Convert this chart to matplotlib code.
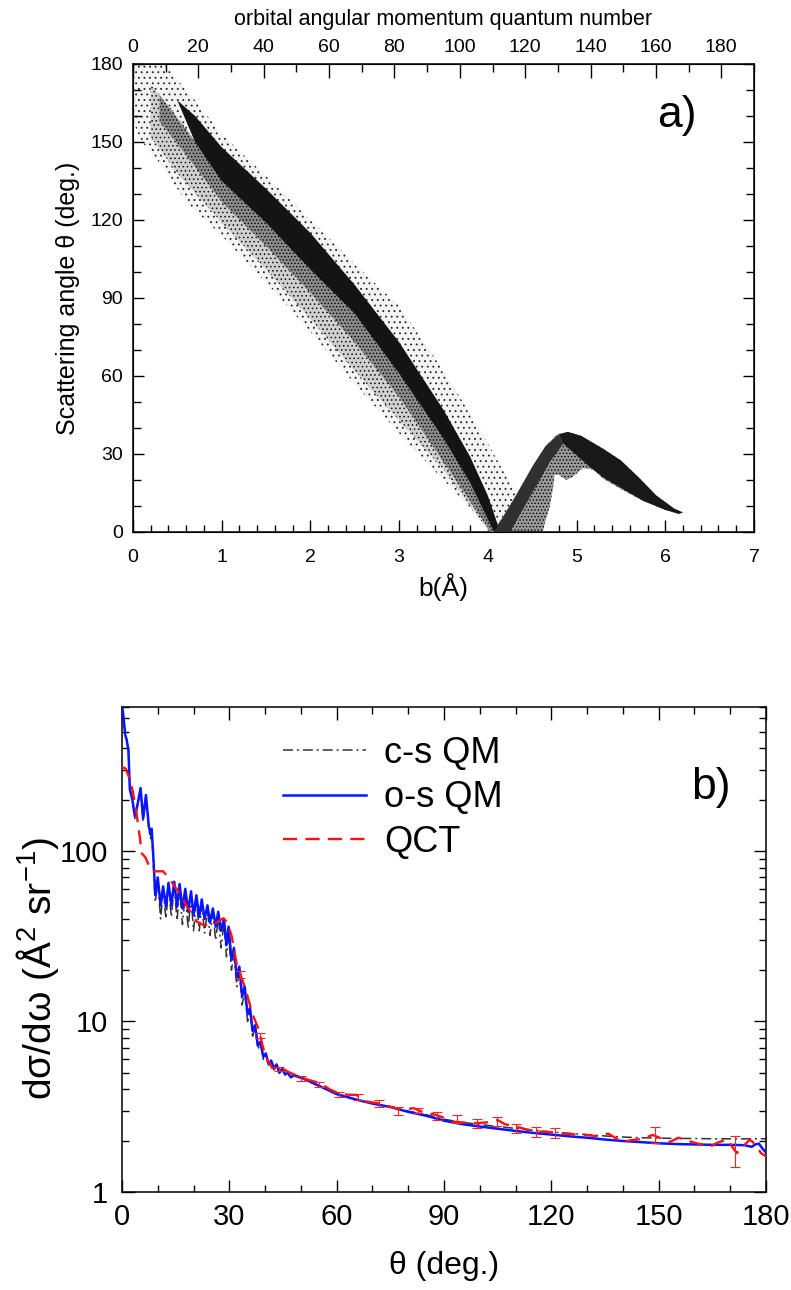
import matplotlib
matplotlib.use('Agg')
import matplotlib.pyplot as plt
from matplotlib.ticker import MultipleLocator, FixedLocator, NullFormatter, FixedFormatter

plt.rcParams['font.family'] = ['Liberation Sans', 'DejaVu Sans']
plt.rcParams['mathtext.fontset'] = 'custom'
plt.rcParams['mathtext.rm'] = 'Liberation Sans'
plt.rcParams['mathtext.it'] = 'Liberation Sans:italic'
plt.rcParams['hatch.linewidth'] = 0.6

# ---------------- panel a) : scattering-angle cloud, read as band outlines (b in A, theta in deg)
# sparse outer envelope of the main branch
env_b = [0.0, 0.35, 0.7, 1.0, 1.5, 2.0, 2.3, 2.5, 3.0, 3.5, 3.9, 4.2, 4.35, 4.45, 4.5,
         4.05, 4.0, 3.5, 3.0, 2.5, 2.0, 1.5, 1.0, 0.6, 0.3, 0.1, 0.0]
env_t = [180, 180, 166, 153, 137, 120, 110, 103, 87, 62, 40, 22, 14, 5, 0,
         0, 2, 20, 38, 57, 77, 96, 114, 127, 142, 150, 158]
# intermediate density below the core
lmid_b = [0.2, 0.45, 1.0, 1.5, 2.0, 2.5, 3.0, 3.5, 3.9, 4.1,
          4.02, 3.5, 3.0, 2.5, 2.0, 1.5, 1.0, 0.5, 0.2]
lmid_t = [172, 162, 137, 121, 103, 85, 63, 38, 12, 0,
          0, 24, 43, 62, 82, 101, 119, 138, 152]
# moderately dense region just under the core
mid_b = [0.3, 0.7, 1.0, 1.5, 2.0, 2.5, 3.0, 3.5, 3.8, 4.05, 4.1,
         4.03, 3.6, 3.0, 2.5, 2.0, 1.5, 1.0, 0.6, 0.3]
mid_t = [168, 150, 137, 121, 103, 85, 63, 38, 20, 3, 0,
         0, 22, 52, 73, 92, 110, 127, 145, 158]
# dense core of the main branch
core_b = [0.5, 0.7, 1.0, 1.5, 2.0, 2.5, 3.0, 3.5, 3.8, 4.0, 4.12, 4.12,
          4.07, 3.8, 3.5, 3.0, 2.5, 2.0, 1.5, 1.0, 0.7]
core_t = [166, 160, 148, 132, 115, 95, 73, 47, 29, 14, 2, 0,
          0, 19, 36, 61, 84, 101, 119, 135, 150]
# second (rainbow) branch outline
br2_b = [4.06, 4.3, 4.5, 4.65, 4.78, 4.9, 5.05, 5.3, 5.5, 5.7, 5.9, 6.1, 6.2,
         6.15, 6.0, 5.75, 5.5, 5.3, 5.19, 5.07, 4.95, 4.88, 4.8, 4.75, 4.74, 4.7, 4.64, 4.62]
br2_t = [0, 13, 25, 33, 37.5, 38.5, 37, 32, 27.5, 21, 14, 9, 7.5,
         7, 8.5, 12, 16.5, 20.5, 24, 24.5, 21, 20, 22, 22, 18, 10, 3, 0]
# dense tail of the second branch
tail_b = [4.8, 4.9, 5.05, 5.3, 5.5, 5.7, 5.9, 6.1, 6.2,
          6.15, 6.0, 5.75, 5.5, 5.3, 5.15, 5.05, 4.95, 4.85]
tail_t = [37.5, 38.5, 37, 32, 27.5, 21, 14, 9, 7.5,
          7, 8.5, 12, 17, 21, 25, 28, 31, 34]
# dense rising arm of the second branch
arm_b = [4.07, 4.3, 4.5, 4.65, 4.8, 4.85, 4.7, 4.55, 4.4, 4.25]
arm_t = [0, 13, 25, 33, 37.5, 34, 27, 18, 9, 0]

# ---------------- panel b) : differential cross sections
qm_theta = [0.0, 0.4, 0.9, 1.3, 1.8, 2.2, 2.9, 3.6, 4.4, 5.2, 5.9, 6.7, 7.5, 8.0, 8.3, 8.8, 9.3,
            10.0, 10.8, 11.5, 12.3, 13.0, 13.8, 14.6, 15.4, 16.1, 16.9, 17.7, 18.5, 19.3, 20.0,
            20.8, 21.6, 22.3, 23.1, 23.9, 24.6, 25.4, 26.2, 26.9, 27.7, 28.5, 29.2, 29.8, 30.6,
            31.3, 32.1, 32.8, 33.6, 34.3, 35.1, 35.8, 36.5, 37.2, 38.0, 38.7, 39.5, 40.2, 41.0,
            41.7, 42.5, 43.2, 44.0, 44.8, 45.6, 46.4, 47.2, 48.0, 50, 55, 60, 65, 70, 75, 80,
            85, 90, 95, 100, 105, 110, 115, 120, 125, 130, 135, 140, 145, 150, 155, 160, 165,
            170, 174, 176, 177, 178, 179, 180]
os_qm = [720, 620, 480, 450, 390, 230, 200, 160, 190, 234, 155, 213, 140, 125, 135, 90, 55,
         70, 48, 62, 47, 65, 48, 66, 47, 64, 46, 60, 44, 58, 42,
         55, 41, 52, 40, 48, 38, 46, 36, 44, 34, 40, 28, 36, 23,
         27, 18, 21, 14, 16, 11, 12, 8.8, 9.5, 7.2, 7.6, 6.2, 6.5, 5.6,
         5.9, 5.3, 5.6, 5.0, 5.3, 4.9, 5.0, 4.7, 4.85, 4.7, 4.2, 3.75, 3.5, 3.3, 3.15, 2.95,
         2.8, 2.62, 2.5, 2.42, 2.35, 2.28, 2.22, 2.17, 2.12, 2.08, 2.03, 1.99, 1.96, 1.93, 1.91,
         1.90, 1.89, 1.89, 1.88, 1.84, 1.90, 1.92, 1.80, 1.70]
cs_qm = [720, 620, 480, 450, 390, 230, 200, 155, 185, 228, 150, 205, 135, 118, 128, 82, 50,
         66, 40, 58, 40, 61, 41, 62, 39, 60, 37, 56, 35, 54, 34,
         51, 34, 48, 33, 45, 32, 43, 30, 41, 27, 38, 24, 32, 20,
         25, 16, 19.5, 12.5, 15, 10, 11.5, 8.2, 9.2, 6.9, 7.4, 6.0, 6.4, 5.5,
         5.8, 5.2, 5.5, 4.95, 5.2, 4.85, 4.95, 4.65, 4.8, 4.65, 4.2, 3.78, 3.52, 3.32, 3.17, 2.98,
         2.84, 2.67, 2.56, 2.49, 2.42, 2.36, 2.30, 2.25, 2.21, 2.17, 2.13, 2.10, 2.08, 2.07, 2.06,
         2.06, 2.05, 2.05, 2.05, 2.05, 2.05, 2.05, 2.05, 2.05]

qct_theta = [0, 1, 2, 3, 4, 5, 5.5, 6.5, 7.8, 9, 11.5, 13, 16.2, 18, 20.9, 22.5, 24.6, 26, 28.3,
             29.5, 30.7, 32, 34.6, 36.5, 38.3, 39.3, 40.2, 42, 44.5, 47, 49.5, 52, 55.6, 58,
             60.6, 63, 65.5, 68, 71.7, 74, 76.6, 79, 81.5, 84, 87.8, 90, 92.7, 96, 98.9, 102,
             105, 107, 110, 113, 116.2, 119, 122.4, 126, 129.7, 133, 135.9, 139.7, 143, 145.5,
             148.3, 151, 153.2, 155.6, 158, 161, 164.3, 166.5, 169.2, 170.5, 171.8, 173, 175.5,
             177, 178.6, 180]
qct = [310, 305, 270, 225, 170, 120, 97, 92, 80, 76, 76, 70, 56, 48, 38.5, 37, 36.8, 37.5, 40.3,
       38, 31.4, 22, 15.3, 11, 8.9, 7.2, 6.2, 5.33, 5.33, 5.0, 4.75, 4.55, 4.34, 4.0,
       3.79, 3.72, 3.71, 3.4, 3.31, 3.2, 3.1, 3.05, 3.1, 2.95, 2.83, 2.72, 2.58, 2.55, 2.53, 2.56,
       2.64, 2.5, 2.42, 2.33, 2.26, 2.25, 2.2, 2.18, 2.16, 2.12, 2.2, 1.97, 2.02, 2.05,
       2.16, 2.05, 1.97, 2.08, 2.0, 1.92, 1.84, 1.95, 2.03, 1.85, 1.69, 1.8, 2.03,
       1.9, 1.69, 1.62]

eb_theta = [33.1, 38.6, 43.9, 50.1, 55.0, 60.6, 66.1, 71.7, 77.2, 82.6, 88.1, 93.7, 99.1,
            104.8, 110.0, 115.6, 121.1, 148.9, 171.2]
eb_val = [19.0, 8.3, 5.27, 4.64, 4.29, 3.75, 3.60, 3.30, 2.99, 2.99, 2.78, 2.69, 2.52,
          2.60, 2.37, 2.26, 2.21, 2.17, 1.76]
eb_err = [0.9, 0.27, 0.12, 0.15, 0.15, 0.13, 0.14, 0.14, 0.17, 0.10, 0.15, 0.14, 0.15,
          0.17, 0.15, 0.16, 0.15, 0.22, 0.36]

top_ticks = [0, 20, 40, 60, 80, 100, 120, 140, 160, 180]

fig = plt.figure(figsize=(7.91, 12.90), dpi=100)

# ================= panel a
ax1 = fig.add_axes([0.1681, 0.5876, 0.7851, 0.3628])
ax1.fill(env_b, env_t, facecolor='#f4f4f4', edgecolor='#222222', hatch='...', linewidth=0, zorder=1)
ax1.fill(lmid_b, lmid_t, facecolor='#d0d0d0', edgecolor='#111111', hatch='....', linewidth=0, zorder=2)
ax1.fill(mid_b, mid_t, facecolor='#8c8c8c', edgecolor='black', hatch='.....', linewidth=0, zorder=3)
ax1.fill(core_b, core_t, facecolor='#141414', edgecolor='none', linewidth=0, zorder=4)
ax1.fill(br2_b, br2_t, facecolor='#9a9a9a', edgecolor='black', hatch='.....', linewidth=0, zorder=2)
ax1.fill(tail_b, tail_t, facecolor='#181818', edgecolor='none', linewidth=0, zorder=4)
ax1.fill(arm_b, arm_t, facecolor='#303030', edgecolor='none', linewidth=0, zorder=4)

ax1.set_xlim(0, 7)
ax1.set_ylim(0, 180)
ax1.xaxis.set_major_locator(MultipleLocator(1))
ax1.xaxis.set_minor_locator(MultipleLocator(0.2))
ax1.yaxis.set_major_locator(MultipleLocator(30))
ax1.yaxis.set_minor_locator(MultipleLocator(10))
ax1.tick_params(axis='both', which='both', direction='in', labelsize=14, width=1.0)
ax1.tick_params(axis='x', which='major', length=9, top=False, pad=12)
ax1.tick_params(axis='x', which='minor', length=5, top=False)
ax1.tick_params(axis='y', which='major', length=8, right=True, pad=7)
ax1.tick_params(axis='y', which='minor', length=6, right=True)
ax1.set_xlabel('b(Å)', fontsize=19, labelpad=5)
ax1.set_ylabel('Scattering angle θ (deg.)', fontsize=18, labelpad=8)
for s in ax1.spines.values():
    s.set_linewidth(1.1)
ax1.text(0.876, 0.889, 'a)', transform=ax1.transAxes, fontsize=32, ha='center', va='center')

ax1t = ax1.twiny()
ax1t.set_xlim(0, 190)
ax1t.xaxis.set_major_locator(FixedLocator(top_ticks))
ax1t.xaxis.set_minor_locator(MultipleLocator(10))
ax1t.tick_params(axis='x', which='both', direction='in', labelsize=14, width=1.0, pad=6)
ax1t.tick_params(axis='x', which='major', length=10)
ax1t.tick_params(axis='x', which='minor', length=6)
ax1t.set_xlabel('orbital angular momentum quantum number', fontsize=15.5, labelpad=10)

# ================= panel b
ax2 = fig.add_axes([0.1542, 0.0760, 0.8142, 0.3760])
ax2.plot(qm_theta, cs_qm, color='#333333', lw=1.1, dashes=(6.5, 2.6, 1.3, 2.6),
         label='c-s QM', zorder=2)
ax2.plot(qm_theta, os_qm, color='#0a14ff', lw=1.8, label='o-s QM', zorder=3)
ax2.plot(qct_theta, qct, color='#ff1010', lw=1.7, dashes=(6, 3.5), label='QCT', zorder=4)
ax2.errorbar(eb_theta, eb_val, yerr=eb_err, fmt='none', ecolor='#ff2020', elinewidth=0.8,
             capsize=3.3, capthick=0.8, zorder=4)
ax2.set_yscale('log')
ax2.set_xlim(0, 180)
ax2.set_ylim(1, 700)
ax2.xaxis.set_major_locator(MultipleLocator(30))
ax2.xaxis.set_minor_locator(MultipleLocator(10))
ax2.yaxis.set_major_locator(FixedLocator([1, 10, 100]))
ax2.yaxis.set_major_formatter(FixedFormatter(['1', '10', '100']))
ax2.yaxis.set_minor_locator(FixedLocator([m * d for d in (1, 10, 100) for m in range(2, 10)]))
ax2.yaxis.set_minor_formatter(NullFormatter())
ax2.tick_params(axis='both', which='both', direction='in', labelsize=21, width=1.0,
                top=True, right=True)
ax2.tick_params(axis='both', which='major', length=9)
ax2.tick_params(axis='both', which='minor', length=5)
ax2.tick_params(axis='x', pad=8)
ax2.tick_params(axis='y', pad=10)
ax2.set_xlabel('θ (deg.)', fontsize=23, labelpad=14)
ax2.set_ylabel('dσ/dω (Å$^{2}$ sr$^{-1}$)', fontsize=28)
ax2.yaxis.set_label_coords(-0.095, 0.46)
for s in ax2.spines.values():
    s.set_linewidth(1.1)
ax2.text(0.915, 0.833, 'b)', transform=ax2.transAxes, fontsize=32, ha='center', va='center')
ax2.legend(loc='upper left', bbox_to_anchor=(0.25, 0.94), frameon=False, fontsize=26,
           handlelength=2.3, handletextpad=0.5, labelspacing=0.26, borderpad=0, borderaxespad=0)

fig.savefig('out.png', dpi=100)
